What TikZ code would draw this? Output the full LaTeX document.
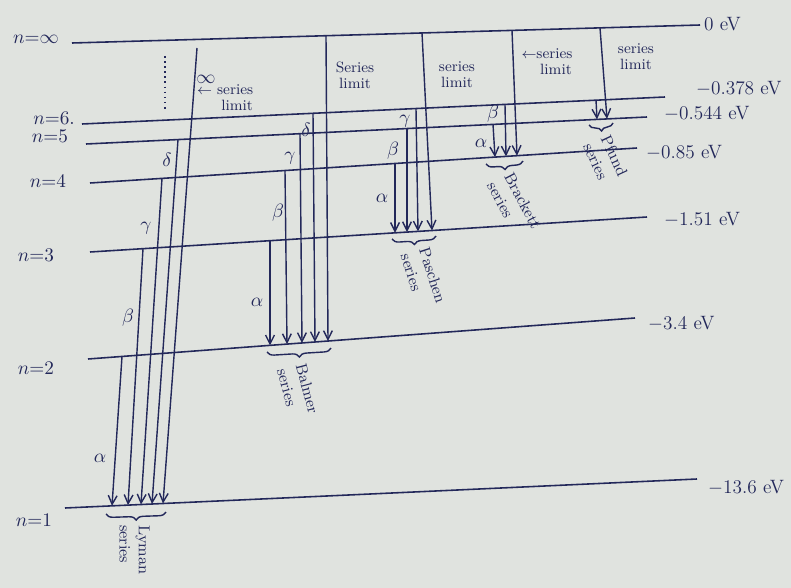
\documentclass[tikz,border=0pt]{standalone}
\usetikzlibrary{arrows.meta,decorations.pathreplacing}
\definecolor{ink}{RGB}{35,40,90}
\definecolor{paper}{RGB}{224,227,223}
\tikzset{
  level/.style={draw=ink, line width=0.9pt},
  trans/.style={draw=ink, line width=0.8pt, -{Straight Barb[length=5pt,width=5pt]}},
  lbl/.style={text=ink, font=\fontsize{11}{12}\selectfont, inner sep=1pt},
  small/.style={text=ink, font=\fontsize{8.5}{9}\selectfont, inner sep=1pt, align=center},
  greek/.style={text=ink, font=\fontsize{11}{12}\selectfont, inner sep=0pt},
  ser/.style={text=ink, font=\fontsize{9}{11}\selectfont, inner sep=0.5pt, align=left},
  brc/.style={draw=ink, line width=0.8pt, decorate, decoration={brace, mirror, amplitude=4pt}}
}
\begin{document}
\begin{tikzpicture}[x=0.02cm, y=-0.02cm]
\fill[paper] (0,0) rectangle (791,588);
\useasboundingbox (0,0) rectangle (791,588);

% level end points
\coordinate (Linfa) at (72,43);  \coordinate (Linfb) at (700,25);
\coordinate (L6a) at (82,124);   \coordinate (L6b) at (665,97);
\coordinate (L5a) at (86,144);   \coordinate (L5b) at (647,117);
\coordinate (L4a) at (90,183);   \coordinate (L4b) at (637,148);
\coordinate (L3a) at (90,252);   \coordinate (L3b) at (647,217);
\coordinate (L2a) at (88,359);   \coordinate (L2b) at (635,318);
\coordinate (L1a) at (65,508);   \coordinate (L1b) at (697,479);

\draw[level] (Linfa) -- (Linfb);
\draw[level] (L6a) -- (L6b);
\draw[level] (L5a) -- (L5b);
\draw[level] (L4a) -- (L4b);
\draw[level] (L3a) -- (L3b);
\draw[level] (L2a) -- (L2b);
\draw[level] (L1a) -- (L1b);

% level names
\node[lbl] (ninf) at (36,39) {$n{=}\infty$};
\node[lbl] (n6) at (54,118) {$n{=}6.$};
\node[lbl] (n5) at (50,136) {$n{=}5$};
\node[lbl] (n4) at (48,181) {$n{=}4$};
\node[lbl] (n3) at (36,255) {$n{=}3$};
\node[lbl] (n2) at (36,368) {$n{=}2$};
\node[lbl] (n1) at (34,520) {$n{=}1$};

% energies
\node[lbl, anchor=west] (e0) at (702,24) {0 eV};
\node[lbl, anchor=west] (e6) at (694,89) {$-$0.378 eV};
\node[lbl, anchor=west] (e5) at (662,114) {$-$0.544 eV};
\node[lbl, anchor=west] (e4) at (644,153) {$-$0.85 eV};
\node[lbl, anchor=west] (e3) at (662,220) {$-$1.51 eV};
\node[lbl, anchor=west] (e2) at (646,324) {$-$3.4 eV};
\node[lbl, anchor=west] (e1) at (706,488) {$-$13.6 eV};

% Lyman series
\coordinate (ly1s) at (122,356.5); \coordinate (ly1e) at (112,505.8);
\coordinate (ly2s) at (143,248.7); \coordinate (ly2e) at (128,505.1);
\coordinate (ly3s) at (162,178.4); \coordinate (ly3e) at (141,504.5);
\coordinate (ly4s) at (178,139.6); \coordinate (ly4e) at (152,504);
\coordinate (ly5s) at (197,48);    \coordinate (ly5e) at (163,503.5);
\draw[trans] (ly1s) -- (ly1e);
\draw[trans] (ly2s) -- (ly2e);
\draw[trans] (ly3s) -- (ly3e);
\draw[trans] (ly4s) -- (ly4e);
\draw[trans] (ly5s) -- (ly5e);
\node[greek] (lya) at (100,458) {$\alpha$};
\node[greek] (lyb) at (128,318) {$\beta$};
\node[greek] (lyg) at (146,228) {$\gamma$};
\node[greek] (lyd) at (167,160) {$\delta$};
\draw[ink, line width=0.9pt, dotted] (165,56) -- (165,112);
\node[greek] (lyinf) at (206,79) {$\infty$};
\node[small, anchor=west] (lylim) at (195,98) {$\leftarrow$ series\\ \hspace*{1.6em}limit};
\coordinate (lybr1) at (106,514); \coordinate (lybr2) at (166,512);
\draw[brc] (lybr1) -- (lybr2);
\node[ser, rotate=-90, anchor=north west] (lyser) at (151,524) {Lyman\\series};

% Balmer series
\coordinate (ba1s) at (270,240.7); \coordinate (ba1e) at (270,345.4);
\coordinate (ba2s) at (285,170.5); \coordinate (ba2e) at (287,344.1);
\coordinate (ba3s) at (300,133.7); \coordinate (ba3e) at (302,343);
\coordinate (ba4s) at (313,113.3); \coordinate (ba4e) at (315,342);
\coordinate (ba5s) at (326,35.7);  \coordinate (ba5e) at (328,341);
\draw[trans] (ba1s) -- (ba1e);
\draw[trans] (ba2s) -- (ba2e);
\draw[trans] (ba3s) -- (ba3e);
\draw[trans] (ba4s) -- (ba4e);
\draw[trans] (ba5s) -- (ba5e);
\node[greek] (baa) at (257,302) {$\alpha$};
\node[greek] (bab) at (278,213) {$\beta$};
\node[greek] (bag) at (290,158) {$\gamma$};
\node[greek] (bad) at (306,130) {$\delta$};
\node[small] (balim) at (355,75) {Series\\limit};
\coordinate (babr1) at (267,352); \coordinate (babr2) at (331,348);
\draw[brc] (babr1) -- (babr2);
\node[ser, rotate=-75, anchor=north west] (baser) at (307,361) {Balmer\\series};

% Paschen series
\coordinate (pa1s) at (395,163.5); \coordinate (pa1e) at (395,232.8);
\coordinate (pa2s) at (407,128.6); \coordinate (pa2e) at (407,232.1);
\coordinate (pa3s) at (416,108.5); \coordinate (pa3e) at (418,231.4);
\coordinate (pa4s) at (422,33);    \coordinate (pa4e) at (432,230.5);
\draw[trans] (pa1s) -- (pa1e);
\draw[trans] (pa2s) -- (pa2e);
\draw[trans] (pa3s) -- (pa3e);
\draw[trans] (pa4s) -- (pa4e);
\node[greek] (paa) at (382,198) {$\alpha$};
\node[greek] (pab) at (393,151) {$\beta$};
\node[greek] (pag) at (405,121) {$\gamma$};
\node[small] (palim) at (457,75) {series\\limit};
\coordinate (pabr1) at (392,239); \coordinate (pabr2) at (436,236);
\draw[brc] (pabr1) -- (pabr2);
\node[ser, rotate=-72, anchor=north west] (paser) at (430,245) {Paschen\\series};

% Brackett series
\coordinate (br1s) at (493,124.4); \coordinate (br1e) at (495,157.1);
\coordinate (br2s) at (505,104.4); \coordinate (br2e) at (506,156.4);
\coordinate (br3s) at (512,30.4);  \coordinate (br3e) at (517,155.7);
\draw[trans] (br1s) -- (br1e);
\draw[trans] (br2s) -- (br2e);
\draw[trans] (br3s) -- (br3e);
\node[greek] (bra) at (481,143) {$\alpha$};
\node[greek] (brb) at (493,114) {$\beta$};
\node[small] (brlim) at (547,62) {$\leftarrow$series\\ \hspace*{1.2em}limit};
\coordinate (brbr1) at (486,164); \coordinate (brbr2) at (523,161);
\draw[brc] (brbr1) -- (brbr2);
\node[ser, rotate=-62, anchor=north west] (brser) at (514,170) {Brackett\\series};

% Pfund series
\coordinate (pf1s) at (596,100.2); \coordinate (pf1e) at (597,119.4);
\coordinate (pf2s) at (600,27.9);  \coordinate (pf2e) at (607,118.9);
\draw[trans] (pf1s) -- (pf1e);
\draw[trans] (pf2s) -- (pf2e);
\node[small] (pflim) at (636,57) {series\\limit};
\coordinate (pfbr1) at (589,125); \coordinate (pfbr2) at (613,123);
\draw[brc] (pfbr1) -- (pfbr2);
\node[ser, rotate=-65, anchor=north west] (pfser) at (611,132) {Pfund\\series};
\end{tikzpicture}
\end{document}
